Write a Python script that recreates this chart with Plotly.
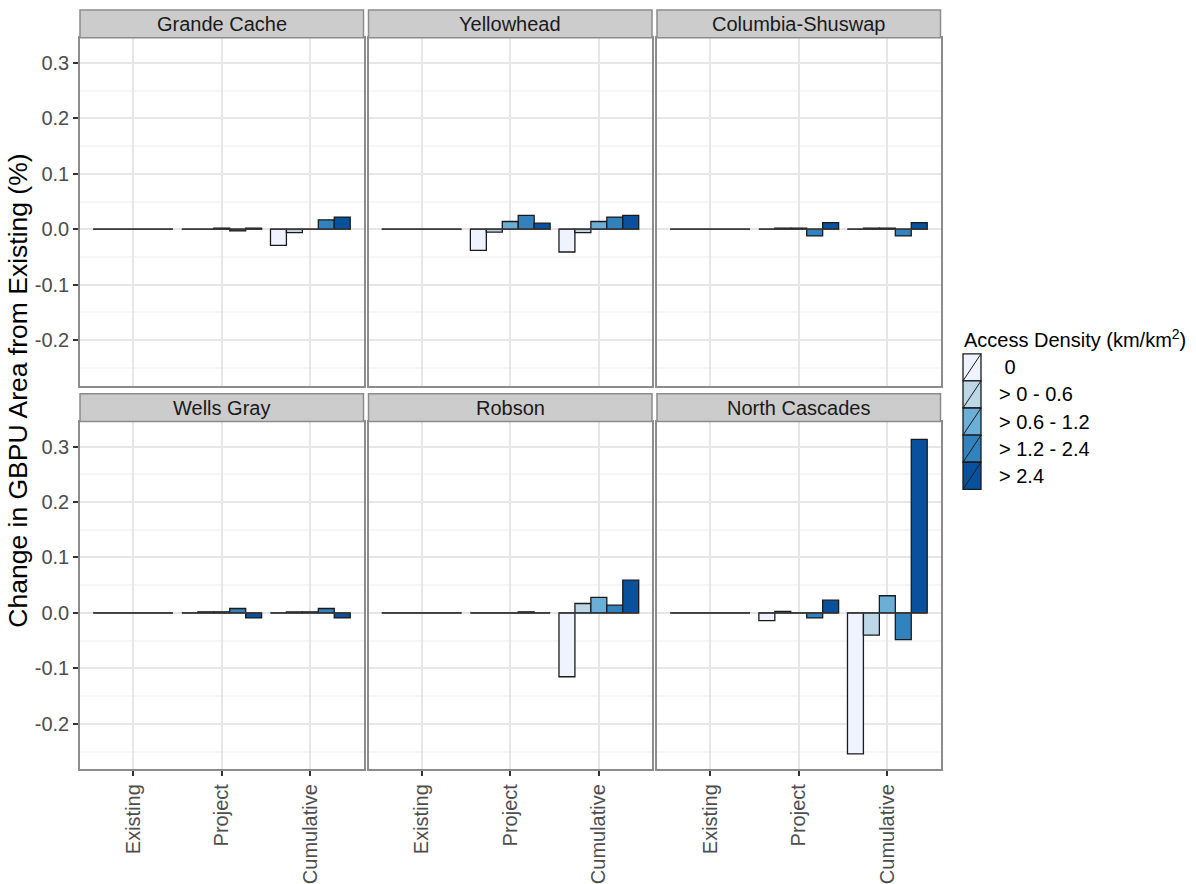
import plotly.graph_objects as go

# ---- data -------------------------------------------------------------
phases = ["Existing", "Project", "Cumulative"]
density_classes = ["0", "> 0 - 0.6", "> 0.6 - 1.2", "> 1.2 - 2.4", "> 2.4"]
regions = ["Grande Cache", "Yellowhead", "Columbia-Shuswap",
           "Wells Gray", "Robson", "North Cascades"]

# change in GBPU area (%) per density class, values for Existing / Project / Cumulative
grande_cache = [
    [0, 0.000, -0.029],
    [0, 0.000, -0.006],
    [0, 0.002, 0.000],
    [0, -0.003, 0.017],
    [0, 0.002, 0.022],
]
yellowhead = [
    [0, -0.038, -0.041],
    [0, -0.005, -0.006],
    [0, 0.014, 0.014],
    [0, 0.025, 0.022],
    [0, 0.011, 0.025],
]
columbia_shuswap = [
    [0, 0.000, 0.000],
    [0, 0.002, 0.002],
    [0, 0.002, 0.002],
    [0, -0.012, -0.012],
    [0, 0.012, 0.012],
]
wells_gray = [
    [0, 0.000, 0.000],
    [0, 0.002, 0.002],
    [0, 0.002, 0.002],
    [0, 0.008, 0.008],
    [0, -0.009, -0.009],
]
robson = [
    [0, 0.000, -0.115],
    [0, 0.000, 0.017],
    [0, 0.000, 0.028],
    [0, 0.002, 0.014],
    [0, 0.000, 0.059],
]
north_cascades = [
    [0, -0.014, -0.254],
    [0, 0.003, -0.040],
    [0, 0.000, 0.031],
    [0, -0.009, -0.048],
    [0, 0.023, 0.313],
]
region_values = [grande_cache, yellowhead, columbia_shuswap,
                 wells_gray, robson, north_cascades]

y_tick_vals = [0.3, 0.2, 0.1, 0.0, -0.1, -0.2]
y_tick_text = ["0.3", "0.2", "0.1", "0.0", "-0.1", "-0.2"]
y_minor_vals = [0.25, 0.15, 0.05, -0.05, -0.15, -0.25]

# ---- styling ----------------------------------------------------------
W, H = 1196, 884
FONT = "Liberation Sans, Arial, sans-serif"
SMALL = 20
fills = ["#EFF3FF", "#BDD7E7", "#6BAED6", "#3182BD", "#08519C"]
outline = "#1a1a1a"
border = "#8C8C8C"
grid_major = "#E6E6E6"
grid_minor = "#F6F6F6"
tick_font_color = "#4D4D4D"
y_range = [-0.282, 0.345]
x_range = [-0.6, 2.6]
bar_group_width = 0.9

col_edges = [(80, 363.5), (368.5, 652), (657, 940.5)]
row_edges = [(38, 387), (423, 772)]      # plot area top / bottom (px)
strip_edges = [(10, 38), (395, 423)]     # strip top / bottom (px)


def px_x(v):
    return v / W


def px_y(v):
    return 1 - v / H


fig = go.Figure()
shapes = []
annotations = []
layout_axes = {}

for k, (name, values) in enumerate(zip(regions, region_values)):
    r, c = divmod(k, 3)
    xa = "x" if k == 0 else f"x{k + 1}"
    ya = "y" if k == 0 else f"y{k + 1}"
    xkey = "xaxis" if k == 0 else f"xaxis{k + 1}"
    ykey = "yaxis" if k == 0 else f"yaxis{k + 1}"

    for j, cls in enumerate(density_classes):
        fig.add_trace(go.Bar(
            x=phases, y=values[j], name=cls, xaxis=xa, yaxis=ya,
            offsetgroup=str(j), showlegend=False,
            marker=dict(color=fills[j], line=dict(color=outline, width=1.3)),
        ))

    bottom_row = r == 1
    left_col = c == 0
    layout_axes[xkey] = dict(
        domain=[px_x(col_edges[c][0]), px_x(col_edges[c][1])],
        anchor=ya, type="category", categoryorder="array",
        categoryarray=phases, range=x_range,
        showgrid=True, gridcolor=grid_major, gridwidth=1.5,
        showline=True, mirror=True, linecolor=border, linewidth=1.5,
        zeroline=False,
        ticks="outside" if bottom_row else "", ticklen=5, tickwidth=1.5,
        tickcolor="#333333",
        showticklabels=bottom_row, tickangle=-90,
        tickfont=dict(family=FONT, size=SMALL, color=tick_font_color),
    )
    layout_axes[ykey] = dict(
        domain=[px_y(row_edges[r][1]), px_y(row_edges[r][0])],
        anchor=xa, range=y_range,
        tickmode="array", tickvals=y_tick_vals, ticktext=y_tick_text,
        showgrid=True, gridcolor=grid_major, gridwidth=1.5,
        minor=dict(tickmode="array", tickvals=y_minor_vals, showgrid=True,
                   gridcolor=grid_minor, gridwidth=1.5, ticks=""),
        showline=True, mirror=True, linecolor=border, linewidth=1.5,
        zeroline=False,
        ticks="outside" if left_col else "", ticklen=5, tickwidth=1.5,
        tickcolor="#333333",
        showticklabels=left_col,
        tickfont=dict(family=FONT, size=SMALL, color=tick_font_color),
    )

    # baseline of the dodged group (zero-height bars show as a flat edge)
    for i in range(len(phases)):
        shapes.append(dict(
            type="line", xref=xa, yref=ya,
            x0=i - bar_group_width / 2, x1=i + bar_group_width / 2, y0=0, y1=0,
            line=dict(color="#3a3a3a", width=1.5), layer="above",
        ))

    # facet strip
    st, sb = strip_edges[r]
    shapes.append(dict(
        type="rect", xref="paper", yref="paper",
        x0=px_x(col_edges[c][0]), x1=px_x(col_edges[c][1]),
        y0=px_y(sb), y1=px_y(st),
        fillcolor="#CCCCCC", line=dict(color=border, width=1.5), layer="above",
    ))
    annotations.append(dict(
        text=name, xref="paper", yref="paper",
        x=px_x((col_edges[c][0] + col_edges[c][1]) / 2), y=px_y((st + sb) / 2),
        xanchor="center", yanchor="middle", showarrow=False,
        font=dict(family=FONT, size=SMALL, color="#1a1a1a"),
    ))

# y-axis title
annotations.append(dict(
    text="Change in GBPU Area from Existing (%)", xref="paper", yref="paper",
    x=px_x(18), y=px_y(392), textangle=-90, showarrow=False,
    xanchor="center", yanchor="middle",
    font=dict(family=FONT, size=26.5, color="#000000"),
))

# legend
legend_left, key_w, key_h, key_top = 963, 18, 27.2, 355
annotations.append(dict(
    text="Access Density (km/km<sup>2</sup>)", xref="paper", yref="paper",
    x=px_x(legend_left - 1), y=px_y(340), xanchor="left", yanchor="middle",
    showarrow=False, font=dict(family=FONT, size=SMALL, color="#000000"),
))
for j, cls in enumerate(density_classes):
    y0 = key_top + j * key_h
    y1 = y0 + key_h
    shapes.append(dict(
        type="rect", xref="paper", yref="paper",
        x0=px_x(legend_left), x1=px_x(legend_left + key_w),
        y0=px_y(y1), y1=px_y(y0),
        fillcolor=fills[j], line=dict(color=outline, width=1.3),
    ))
    shapes.append(dict(
        type="line", xref="paper", yref="paper",
        x0=px_x(legend_left), x1=px_x(legend_left + key_w),
        y0=px_y(y1), y1=px_y(y0),
        line=dict(color=outline, width=1),
    ))
    label = "\u00a0" + cls if cls == "0" else cls
    annotations.append(dict(
        text=label, xref="paper", yref="paper",
        x=px_x(legend_left + key_w + 16), y=px_y((y0 + y1) / 2),
        xanchor="left", yanchor="middle", showarrow=False,
        font=dict(family=FONT, size=SMALL, color="#000000"),
    ))

fig.update_layout(
    width=W, height=H,
    margin=dict(l=0, r=0, t=0, b=0),
    paper_bgcolor="white", plot_bgcolor="white",
    barmode="group", bargap=1 - bar_group_width, bargroupgap=0,
    showlegend=False,
    shapes=shapes, annotations=annotations,
    font=dict(family=FONT),
    **layout_axes,
)

fig.write_html("out.html")
